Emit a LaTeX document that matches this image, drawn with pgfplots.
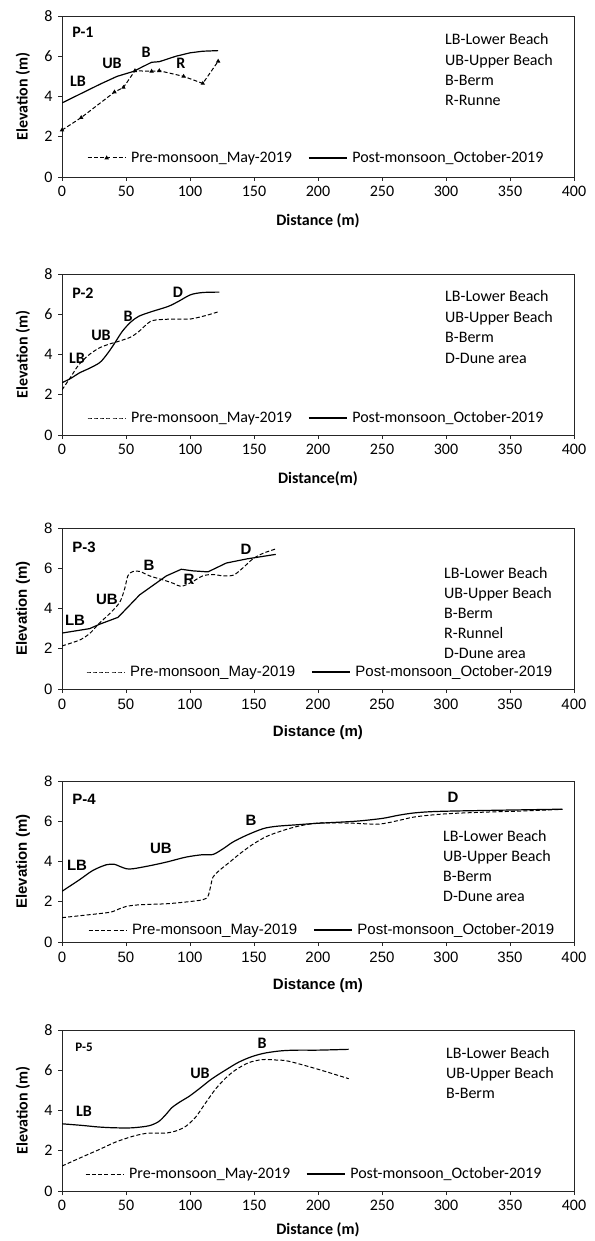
\documentclass[border=0pt]{standalone}
\usepackage{fontspec}
\setmainfont{Carlito}
\newfontfamily\calfam{Carlito}
\newfontfamily\arifam{Liberation Sans}
\usepackage{pgfplots}
\pgfplotsset{compat=1.18}
\newcommand\calf{\calfam\fontsize{16}{19}\selectfont}
\newcommand\calb{\calfam\bfseries\fontsize{16}{19}\selectfont}
\newcommand\calbs{\calfam\bfseries\fontsize{13}{15}\selectfont}
\newcommand\arif{\arifam\fontsize{15}{18}\selectfont}
\newcommand\arib{\arifam\bfseries\fontsize{15}{18}\selectfont}
\pgfplotsset{
  prof/.style={
    scale only axis, width=512pt, height=161pt,
    anchor=south west,
    xmin=0, xmax=400, ymin=0, ymax=8,
    xtick={0,50,...,400}, ytick={0,2,...,8},
    tick align=outside, tick pos=left, major tick length=4pt,
    axis line style={black!85, line width=0.8pt},
    tick style={black!85, line width=0.8pt},
    /pgf/number format/assume math mode=true,
    every axis y label/.style={at={([xshift=-39pt]axis description cs:0,0.5)}, rotate=90, anchor=center},
    every axis x label/.style={at={([yshift=-44pt]axis description cs:0.5,0)}, anchor=center},
    xticklabel style={yshift=-2pt},
    yticklabel style={xshift=-2pt},
    legend columns=2,
    legend style={draw=none, fill=none, at={([xshift=25pt,yshift=19pt]axis description cs:0,0)}, anchor=west,
      inner sep=0pt, column sep=3pt, /tikz/every even column/.append style={column sep=14pt}},
    legend image code/.code={\draw[mark repeat=2,mark phase=2,##1] plot coordinates {(0pt,0pt) (19pt,0pt) (38pt,0pt)};},
  },
  calp/.style={tick label style={font=\calf}, label style={font=\calb}, legend style={font=\calf}},
  arip/.style={tick label style={font=\arif}, label style={font=\arib}, legend style={font=\arif}},
  pre/.style={black, line width=1pt, dash pattern=on 4pt off 2.2pt},
  post/.style={black, line width=1.2pt},
}
\begin{document}
\begin{tikzpicture}[x=1pt,y=1pt]
\path[use as bounding box] (0,0) rectangle (594,-1241);
% ---------- P-1
\begin{axis}[prof, calp, at={(62pt,-177pt)}, xlabel={Distance (m)}, ylabel={Elevation (m)}]
\addplot[pre, mark=triangle*, mark size=1.6pt, mark options={solid}] coordinates {(0,2.33)(15,2.95)(41,4.22)(48,4.45)(57,5.28)(70,5.25)(76,5.28)(95,5.0)(110,4.65)(122,5.75)};
\addlegendentry{Pre-monsoon\_May-2019}
\addplot[post] coordinates {(0,3.68)(15,4.15)(30,4.62)(43,5.0)(56,5.25)(63,5.48)(70,5.7)(76,5.73)(89,6.0)(100,6.17)(110,6.25)(122,6.28)};
\addlegendentry{Post-monsoon\_October-2019}
\end{axis}
% ---------- P-2
\begin{axis}[prof, calp, at={(62pt,-435pt)}, xlabel={Distance(m)}, ylabel={Elevation (m)}, legend style={at={([xshift=25pt,yshift=17pt]axis description cs:0,0)}}]
\addplot[pre, smooth] coordinates {(0,2.24)(7,2.9)(13,3.48)(21,3.98)(29,4.32)(37,4.52)(44,4.65)(53.5,4.86)(60,5.14)(69,5.64)(78,5.74)(91,5.76)(100,5.76)(112,5.93)(123,6.14)};
\addlegendentry{Pre-monsoon\_May-2019}
\addplot[post, smooth] coordinates {(0,2.6)(6.5,2.8)(14,3.1)(21,3.3)(29.5,3.6)(35,4.0)(40.5,4.5)(47,5.14)(53.5,5.6)(60,5.9)(70.5,6.14)(83,6.39)(91,6.64)(100.5,6.97)(110,7.08)(123,7.1)};
\addlegendentry{Post-monsoon\_October-2019}
\end{axis}
% ---------- P-3
\begin{axis}[prof, arip, at={(62pt,-689pt)}, xlabel={Distance (m)}, ylabel={Elevation (m)}, legend style={at={([xshift=24pt,yshift=17pt]axis description cs:0,0)}}]
\addplot[pre, smooth] coordinates {(0,2.14)(14,2.44)(22,2.78)(29,3.26)(37,3.73)(45,4.3)(49,4.99)(51.5,5.63)(55.5,5.84)(61,5.84)(68.5,5.62)(79,5.42)(87,5.25)(93,5.1)(101,5.3)(110,5.62)(118,5.69)(126,5.62)(134,5.66)(141,6.0)(149,6.46)(157,6.74)(167,6.96)};
\addlegendentry{Pre-monsoon\_May-2019}
\addplot[post] coordinates {(0,2.78)(21.6,3.0)(29.4,3.22)(43.75,3.56)(60.7,4.68)(81.5,5.62)(93.2,5.95)(102.3,5.87)(114,5.82)(128.4,6.26)(144,6.46)(154,6.56)(167,6.69)};
\addlegendentry{Post-monsoon\_October-2019}
\end{axis}
% ---------- P-4
\begin{axis}[prof, arip, at={(62pt,-942pt)}, xlabel={Distance (m)}, ylabel={Elevation (m)}, legend style={at={([xshift=26pt,yshift=12pt]axis description cs:0,0)}}]
\addplot[pre, smooth] coordinates {(0,1.21)(16,1.32)(29,1.41)(38.5,1.49)(43.7,1.62)(50.3,1.77)(60.7,1.85)(81.5,1.9)(97,1.99)(110,2.1)(114,2.27)(116,2.73)(118,3.23)(123,3.56)(131,3.97)(139,4.39)(149,4.85)(160,5.25)(173,5.55)(185,5.76)(200,5.91)(224,5.91)(247.5,5.86)(263,6.04)(276,6.22)(300,6.37)(333.5,6.46)(360,6.51)(391,6.59)};
\addlegendentry{Pre-monsoon\_May-2019}
\addplot[post, smooth] coordinates {(0,2.52)(13.8,3.1)(24.2,3.56)(34.7,3.84)(41,3.86)(45,3.76)(50.3,3.64)(55.5,3.64)(68.5,3.79)(81.5,3.97)(97,4.22)(110,4.34)(118,4.35)(126,4.64)(133.6,4.97)(144,5.3)(157,5.63)(167.6,5.75)(184.6,5.83)(200,5.9)(229,6.0)(250,6.14)(263,6.3)(276,6.42)(294,6.49)(333.5,6.54)(391,6.6)};
\addlegendentry{Post-monsoon\_October-2019}
\end{axis}
% ---------- P-5
\begin{axis}[prof, calp, at={(62pt,-1191pt)}, xlabel={Distance (m)}, ylabel={Elevation (m)}, legend style={at={([xshift=23pt,yshift=17pt]axis description cs:0,0)}},
  xlabel style={at={([yshift=-39pt]axis description cs:0.5,0)}}]
\addplot[pre, smooth] coordinates {(0,1.24)(15.7,1.69)(28.7,2.05)(41.8,2.43)(54.8,2.71)(65.3,2.86)(73,2.88)(81,2.88)(88.8,2.98)(96.6,3.21)(104.4,3.67)(112,4.36)(120,5.07)(128,5.62)(135.7,6.02)(146,6.38)(156.6,6.53)(167,6.51)(177,6.45)(200,6.05)(224,5.58)};
\addlegendentry{Pre-monsoon\_May-2019}
\addplot[post, smooth] coordinates {(0,3.34)(15.7,3.26)(28.7,3.18)(41.8,3.14)(54.8,3.14)(67.8,3.24)(75.5,3.45)(81,3.79)(86,4.15)(92.7,4.45)(99,4.69)(107,5.07)(117,5.57)(128,6.02)(138,6.4)(148.4,6.68)(159,6.86)(172,6.97)(185,7.0)(200,7.0)(224,7.04)};
\addlegendentry{Post-monsoon\_October-2019}
\end{axis}
% ---------- annotations
\begin{scope}[every node/.style={inner sep=0pt}]
% P-1
\node[font=\calb, anchor=base] at (83,-38) {P-1};
\node[font=\calb, anchor=base] at (78,-87) {LB};
\node[font=\calb, anchor=base] at (112,-69) {UB};
\node[font=\calb, anchor=base] at (146,-58) {B};
\node[font=\calb, anchor=base] at (181,-69) {R};
\node[font=\calf, anchor=base west] at (445,-45) {LB-Lower Beach};
\node[font=\calf, anchor=base west] at (445,-65.5) {UB-Upper Beach};
\node[font=\calf, anchor=base west] at (445,-86) {B-Berm};
\node[font=\calf, anchor=base west] at (445,-106) {R-Runne};
% P-2
\node[font=\calb, anchor=base] at (83,-298) {P-2};
\node[font=\calb, anchor=base] at (77,-363) {LB};
\node[font=\calb, anchor=base] at (101,-340) {UB};
\node[font=\calb, anchor=base] at (128,-321) {B};
\node[font=\calb, anchor=base] at (178,-297) {D};
\node[font=\calf, anchor=base west] at (445,-301) {LB-Lower Beach};
\node[font=\calf, anchor=base west] at (445,-322) {UB-Upper Beach};
\node[font=\calf, anchor=base west] at (445,-342) {B-Berm};
\node[font=\calf, anchor=base west] at (445,-363) {D-Dune area};
% P-3
\node[font=\arib, anchor=base] at (84,-552.5) {P-3};
\node[font=\arib, anchor=base] at (75,-625.5) {LB};
\node[font=\arib, anchor=base] at (107,-604.5) {UB};
\node[font=\arib, anchor=base] at (149,-570.5) {B};
\node[font=\arib, anchor=base] at (189,-584.5) {R};
\node[font=\arib, anchor=base] at (246,-554.5) {D};
\node[font=\calf, anchor=base west] at (444,-578) {LB-Lower Beach};
\node[font=\calf, anchor=base west] at (444,-598) {UB-Upper Beach};
\node[font=\calf, anchor=base west] at (444,-618) {B-Berm};
\node[font=\calf, anchor=base west] at (444,-638) {R-Runnel};
\node[font=\calf, anchor=base west] at (444,-658) {D-Dune area};
% P-4
\node[font=\arib, anchor=base] at (84,-804.5) {P-4};
\node[font=\arib, anchor=base] at (77,-870.5) {LB};
\node[font=\arib, anchor=base] at (161,-853.5) {UB};
\node[font=\arib, anchor=base] at (251,-825.5) {B};
\node[font=\arib, anchor=base] at (453,-802.5) {D};
\node[font=\calf, anchor=base west] at (443,-841) {LB-Lower Beach};
\node[font=\calf, anchor=base west] at (443,-861) {UB-Upper Beach};
\node[font=\calf, anchor=base west] at (443,-881) {B-Berm};
\node[font=\calf, anchor=base west] at (443,-901) {D-Dune area};
% P-5
\node[font=\calbs, anchor=base] at (84,-1051) {P-5};
\node[font=\calb, anchor=base] at (84,-1116) {LB};
\node[font=\calb, anchor=base] at (200,-1078) {UB};
\node[font=\calb, anchor=base] at (262,-1048) {B};
\node[font=\calf, anchor=base west] at (446,-1058) {LB-Lower Beach};
\node[font=\calf, anchor=base west] at (446,-1078) {UB-Upper Beach};
\node[font=\calf, anchor=base west] at (446,-1098) {B-Berm};
\end{scope}
\end{tikzpicture}
\end{document}
